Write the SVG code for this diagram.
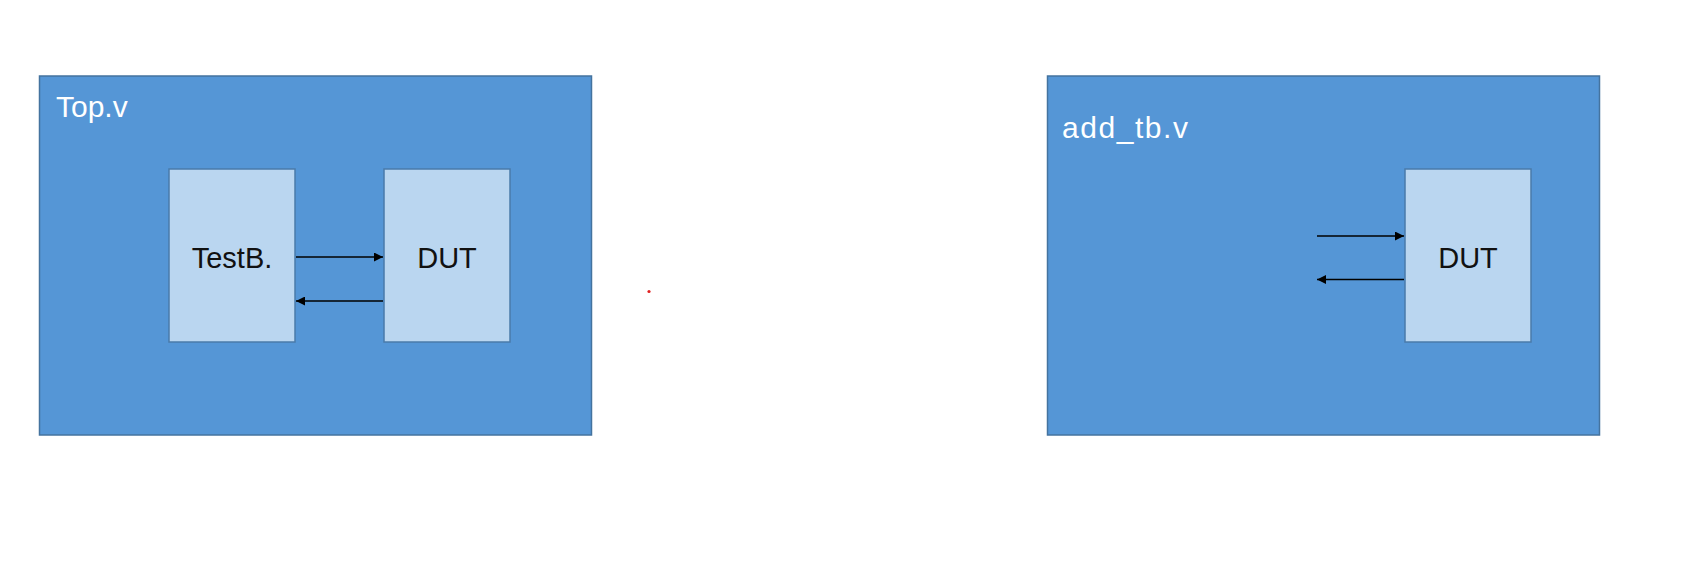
<svg xmlns="http://www.w3.org/2000/svg" width="1687" height="570" viewBox="0 0 1687 570">
<style>
.outer{fill:#5596D6;stroke:#44739F;stroke-width:1.5}
.inner{fill:#BAD6F0;stroke:#4A7BAA;stroke-width:1.5}
.title{font-family:"Liberation Sans",Arial,sans-serif;font-size:30px;fill:#FFFFFF}
.label{font-family:"Liberation Sans",Arial,sans-serif;font-size:29px;fill:#111111;text-anchor:middle}
.conn{stroke:#000000;stroke-width:1.5;fill:none;marker-end:url(#ah)}
</style>
<defs>
<marker id="ah" viewBox="0 0 10 10" refX="10" refY="5" markerWidth="11" markerHeight="9" markerUnits="userSpaceOnUse" orient="auto">
<path d="M0,0 L10,5 L0,10 z" fill="#000000"/>
</marker>
</defs>
<rect width="1687" height="570" fill="#FFFFFF"/>
<g id="top-v">
<rect class="outer" x="39.5" y="76" width="552" height="359"/>
<text class="title" x="56" y="117">Top.v</text>
</g>
<g id="add-tb-v">
<rect class="outer" x="1047.5" y="76" width="552" height="359"/>
<text class="title" x="1062" y="138" textLength="126" lengthAdjust="spacing">add_tb.v</text>
</g>
<g id="testb">
<rect class="inner" x="169" y="169" width="126" height="173"/>
<text class="label" x="232" y="268">TestB.</text>
</g>
<g id="dut-left">
<rect class="inner" x="384" y="169" width="126" height="173"/>
<text class="label" x="447" y="268">DUT</text>
</g>
<g id="dut-right">
<rect class="inner" x="1405" y="169" width="126" height="173"/>
<text class="label" x="1468" y="268">DUT</text>
</g>
<g id="connectors">
<line class="conn" x1="296" y1="257" x2="383" y2="257"/>
<line class="conn" x1="383" y1="301" x2="296" y2="301"/>
<line class="conn" x1="1317" y1="236" x2="1404" y2="236"/>
<line class="conn" x1="1404" y1="279.5" x2="1317" y2="279.5"/>
</g>
<circle cx="649" cy="291.5" r="1.6" fill="#E02020"/>
</svg>
